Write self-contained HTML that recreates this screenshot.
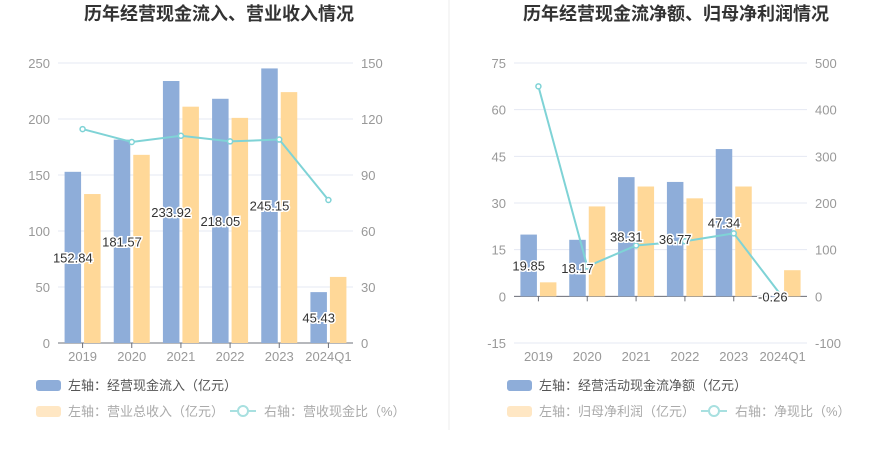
<!DOCTYPE html>
<html><head><meta charset="utf-8">
<style>
body{margin:0;background:#fff;font-family:"Liberation Sans","Noto Sans CJK SC",sans-serif;}
svg text{font-family:"Liberation Sans","Noto Sans CJK SC",sans-serif;}
</style></head>
<body>
<svg id="c" width="893" height="458" xmlns="http://www.w3.org/2000/svg">
<line x1="449" y1="0" x2="449" y2="430" stroke="#eee"/>
<text x="219" y="20" text-anchor="middle" font-size="18" font-weight="bold" fill="#333">历年经营现金流入、营业收入情况</text>
<text x="676" y="20" text-anchor="middle" font-size="18" font-weight="bold" fill="#333">历年经营现金流净额、归母净利润情况</text>
<g id="L"></g><g id="R"></g>
<g>
<rect x="36" y="380" width="25" height="11" rx="3" fill="#8eadd9"/>
<text x="68" y="390" font-size="13" fill="#555">左轴：经营现金流入（亿元）</text>
<rect x="36" y="406" width="25" height="11" rx="3" fill="#ffe7c4"/>
<text x="68" y="416" font-size="13" fill="#aaa">左轴：营业总收入（亿元）</text>
<line x1="230" y1="411" x2="256" y2="411" stroke="#a8e0e0" stroke-width="2"/><circle cx="243" cy="411" r="5" fill="#fff" stroke="#a8e0e0" stroke-width="2"/>
<text x="264" y="416" font-size="13" fill="#aaa">右轴：营收现金比（%）</text>
</g>
<g>
<rect x="507" y="380" width="25" height="11" rx="3" fill="#8eadd9"/>
<text x="539" y="390" font-size="13" fill="#555">左轴：经营活动现金流净额（亿元）</text>
<rect x="507" y="406" width="25" height="11" rx="3" fill="#ffe7c4"/>
<text x="539" y="416" font-size="13" fill="#aaa">左轴：归母净利润（亿元）</text>
<line x1="701" y1="411" x2="727" y2="411" stroke="#a8e0e0" stroke-width="2"/><circle cx="714" cy="411" r="5" fill="#fff" stroke="#a8e0e0" stroke-width="2"/>
<text x="735" y="416" font-size="13" fill="#aaa">右轴：净现比（%）</text>
</g>
</svg>
<script>
const categories=["2019","2020","2021","2022","2023","2024Q1"];
const leftCash=[152.84,181.57,233.92,218.05,245.15,45.43];
const leftRevenue=[133,168,211,201,224,59];
const leftRatio=[114.6,107.7,111,108,109,76.6];
const leftTicksL=[0,50,100,150,200,250];
const leftTicksR=[0,30,60,90,120,150];
const rightCash=[19.85,18.17,38.31,36.77,47.34,-0.26];
const rightProfit=[4.5,28.9,35.3,31.5,35.3,8.4];
const rightRatio=[450,64,109,118,135,-2];
const rightTicksL=[-15,0,15,30,45,60,75];
const rightTicksR=[-100,0,100,200,300,400,500];
const NS="http://www.w3.org/2000/svg";
function mk(g,t,a,txt){const e=document.createElementNS(NS,t);for(const k in a)e.setAttribute(k,a[k]);if(txt!==undefined)e.textContent=txt;g.appendChild(e);return e;}
function chart(gid,x0,x1,top,bot,tl,tr,cash,rev,ratio,pfx){
 const g=document.getElementById(gid);
 const lmin=tl[0],lmax=tl[tl.length-1],rmin=tr[0],rmax=tr[tr.length-1];
 const yl=v=>bot-(v-lmin)/(lmax-lmin)*(bot-top);
 const yr=v=>bot-(v-rmin)/(rmax-rmin)*(bot-top);
 const cw=(x1-x0)/categories.length;
 tl.forEach((t,i)=>{const y=yl(t);
  const ln=mk(g,'line',{x1:x0,x2:x1,y1:y,y2:y,stroke:'#e4e8f3'});
  
  
  const a=mk(g,'text',{x:x0-8,y:y+5,'text-anchor':'end','font-size':13,fill:'#999'},t);
  
  
  const b=mk(g,'text',{x:x1+8,y:yr(tr[i])+5,'font-size':13,fill:'#999'},tr[i]);
  
  
 });
 const z=yl(0);
 const ax=mk(g,'line',{x1:x0,x2:x1,y1:z,y2:z,stroke:'#6e7079'});
 
 
 categories.forEach((c,i)=>{const cx=x0+cw*(i+0.5);
  const tk=mk(g,'line',{x1:cx,x2:cx,y1:z,y2:z+5,stroke:'#6e7079'});
  
  
  const t=mk(g,'text',{x:cx,y:bot+18,'text-anchor':'middle','font-size':13,fill:'#999'},c);
  
  
  const ya=yl(cash[i]);
  const b1=mk(g,'rect',{x:cx-18,y:Math.min(ya,z),width:16.5,height:Math.abs(z-ya),fill:'#8eadd9'});
  
  
  const yb=yl(rev[i]);
  const b2=mk(g,'rect',{x:cx+1.5,y:Math.min(yb,z),width:16.5,height:Math.abs(z-yb),fill:'#ffd898'});
  
  
 });
 let d='';ratio.forEach((v,i)=>{d+=(i?'L':'M')+(x0+cw*(i+0.5))+' '+yr(v);});
 const p=mk(g,'path',{d:d,fill:'none',stroke:'#7fd3d6','stroke-width':2});
 
 
 ratio.forEach((v,i)=>{const c=mk(g,'circle',{cx:x0+cw*(i+0.5),cy:yr(v),r:2.5,fill:'#fff',stroke:'#7fd3d6','stroke-width':1.5});
  
  });
 cash.forEach((v,i)=>{const cx=x0+cw*(i+0.5)-9.75;const y=(yl(v)+z)/2+5;
  const t=mk(g,'text',{x:cx,y:Math.min(y,z+5),'text-anchor':'middle','font-size':13,fill:'#333',stroke:'#fff','stroke-width':3,'paint-order':'stroke'},v.toFixed(2));
  
  });
}
chart('L',58,353,63,343,leftTicksL,leftTicksR,leftCash,leftRevenue,leftRatio,'left-');
chart('R',514,807,63,343,rightTicksL,rightTicksR,rightCash,rightProfit,rightRatio,'right-');
</script>
</body></html>
